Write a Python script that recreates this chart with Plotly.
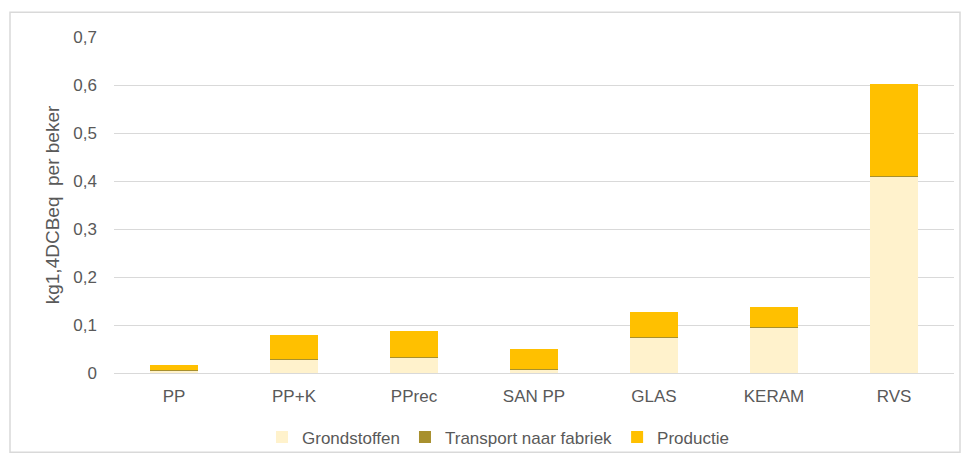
import plotly.graph_objects as go

# Cup types and impact contributions (kg 1,4-DCB eq per cup)
categories = ["PP", "PP+K", "PPrec", "SAN PP", "GLAS", "KERAM", "RVS"]
grondstoffen = [0.005, 0.029, 0.033, 0.008, 0.074, 0.095, 0.410]
transport = [0.0005, 0.0005, 0.0005, 0.0005, 0.001, 0.001, 0.001]
productie = [0.011, 0.050, 0.055, 0.041, 0.052, 0.041, 0.192]

series_names = ["Grondstoffen", "Transport naar fabriek", "Productie"]
series_colors = ["#FFF2CC", "#A8902E", "#FFC000"]

FONT = "Liberation Sans, Arial, sans-serif"
GREY = "#595959"

fig = go.Figure()
for name, vals, col in zip(series_names, [grondstoffen, transport, productie], series_colors):
    fig.add_trace(go.Bar(
        x=categories, y=vals, name=name,
        marker=dict(color=col, line=dict(width=0)),
    ))

# plot area in pixels: x 114..954, y 37..376
L, R, T, B = 114, 13, 37, 92
W, H = 967, 468
pw, ph = W - L - R, H - T - B

def px_x(x):
    return (x - L) / pw

def px_y(y):
    return (H - B - y) / ph

fig.update_layout(
    width=W, height=H,
    margin=dict(l=L, r=R, t=T, b=B),
    barmode="stack",
    bargap=0.6,
    separators=", ",
    paper_bgcolor="white",
    plot_bgcolor="white",
    font=dict(family=FONT, size=17, color=GREY),
    showlegend=True,
    legend=dict(
        orientation="h",
        x=px_x(498), xanchor="center",
        y=px_y(441), yanchor="middle",
        font=dict(size=17, color=GREY),
        bgcolor="rgba(0,0,0,0)",
        itemwidth=30,
        traceorder="normal",
    ),
    xaxis=dict(
        showgrid=False,
        showline=True, linecolor="#D9D9D9", linewidth=1,
        ticks="", ticklabelstandoff=8,
        tickfont=dict(size=17, color=GREY),
    ),
    yaxis=dict(
        range=[0, 0.7],
        dtick=0.1,
        showgrid=True, gridcolor="#D9D9D9", gridwidth=1,
        zeroline=False,
        showline=False,
        ticks="", ticklabelstandoff=16,
        tickfont=dict(size=17, color=GREY),
        title=dict(text="kg1,4DCBeq  per beker", font=dict(size=19, color=GREY), standoff=8),
    ),
    shapes=[dict(
        type="rect", xref="paper", yref="paper",
        x0=px_x(10), x1=px_x(960), y0=px_y(456), y1=px_y(12),
        line=dict(color="#D9D9D9", width=1.5),
        fillcolor="rgba(0,0,0,0)", layer="below",
    )],
)

fig.write_html("out.html")
